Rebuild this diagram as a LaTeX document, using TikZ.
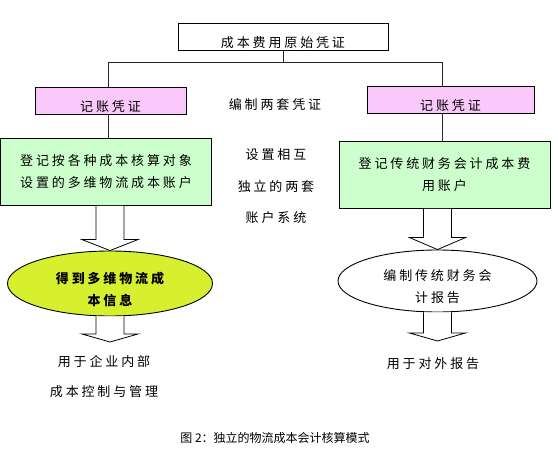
\documentclass[tikz,border=0pt]{standalone}
\usepackage{fontspec}
\newfontfamily\cjk[LetterSpace=22]{Noto Sans CJK SC}
\newfontfamily\cjkcap{Noto Sans CJK SC}
\usepackage{tikz}
\usetikzlibrary{shapes.geometric,calc,positioning}
\usepackage{xcolor}
\definecolor{pinkfill}{RGB}{250,200,250}
\definecolor{greenfill}{RGB}{204,255,204}
\definecolor{limefill}{RGB}{214,240,48}
\newcommand{\fatarrow}[3]{%
\draw [fatarrow] ($(#1)+(-14,0)$) -- ($(#2)+(-14,-#3)$) -- ($(#2)+(-28,-#3)$) -- (#2)
  -- ($(#2)+(28,-#3)$) -- ($(#2)+(14,-#3)$) -- ($(#1)+(14,0)$);}

\begin{document}
\begin{tikzpicture}[x=1pt, y=-1pt,
  font=\cjk\fontsize{13}{22}\selectfont,
  link/.style={line width=0.9pt, draw=black!85},
  topbox/.style={draw, line width=0.9pt, fill=white, minimum width=210pt, minimum height=27pt, inner sep=0pt},
  pinkbox/.style={draw, line width=0.9pt, fill=pinkfill, minimum height=27pt, inner sep=0pt},
  greenbox/.style={draw, line width=0.9pt, fill=greenfill, minimum height=67pt, minimum width=211pt, inner sep=0pt, align=center},
  ellbox/.style={ellipse, draw, line width=0.9pt, inner sep=0pt},
  fatarrow/.style={draw, line width=0.8pt, fill=white},
  low/.style={yshift=-6pt, align=center}]
\useasboundingbox (0,0) rectangle (558,455);

\node [topbox, label={[low]center:成本费用原始凭证}] (src) at (283,36.5) {};
\node [pinkbox, minimum width=151pt, label={[low]center:记账凭证}] (lpink) at (110.5,101) {};
\node [pinkbox, minimum width=167pt, label={[low]center:记账凭证}] (rpink) at (450.5,99.5) {};

\node [greenbox] (lgreen) at (106,172) {登记按各种成本核算对象\\设置的多维物流成本账户};
\node [greenbox, text width=190pt] (rgreen) at (444.5,175) {登记传统财务会计成本费\\用账户};

\coordinate (lbus) at (108,62);
\coordinate (rbus) at (442,62);
\draw [link] (src.south) -- (src.south |- lbus);
\draw [link] (lbus) -- (rbus);
\draw [link] (lbus) -- (lbus |- lpink.north);
\draw [link] (lbus |- lpink.south) -- (lbus |- lgreen.north);
\draw [link] (rbus) -- (rbus |- rpink.north);
\draw [link] (rbus |- rpink.south) -- (rbus |- rgreen.north);

\node [ellbox, fill=limefill, minimum width=205pt, minimum height=65pt,
  label={[low, font=\cjk\bfseries\fontsize{13}{22}\selectfont]center:{得到多维物流成\\本信息}}] (lell) at (110,283.5) {};
\node [ellbox, fill=white, minimum width=199pt, minimum height=62pt,
  label={[low]center:{编制传统财务会\\计报告}}] (rell) at (437.5,281) {};

\coordinate (ltop) at (lgreen.south -| lell.north);
\coordinate (rtop) at (rgreen.south -| rell.north);
\fatarrow{ltop}{lell.north}{11}
\fatarrow{rtop}{rell.north}{12}

\coordinate (lend) at (110,342);
\coordinate (rend) at (437.5,341);
\fatarrow{lell.south}{lend}{8}
\fatarrow{rell.south}{rend}{8}

\node (plan) at (275,105) {编制两套凭证};
\node (sys1) at (276,155) {设置相互};
\node (sys2) at (276,187) {独立的两套};
\node (sys3) at (276,218) {账户系统};

\node (inner1) at (104,362) {用于企业内部};
\node (inner2) at (104,392) {成本控制与管理};
\node (outer) at (433,364) {用于对外报告};

\node [font=\cjkcap\fontsize{12}{14}\selectfont] (caption) at (275,438) {图 2：独立的物流成本会计核算模式};
\end{tikzpicture}
\end{document}
